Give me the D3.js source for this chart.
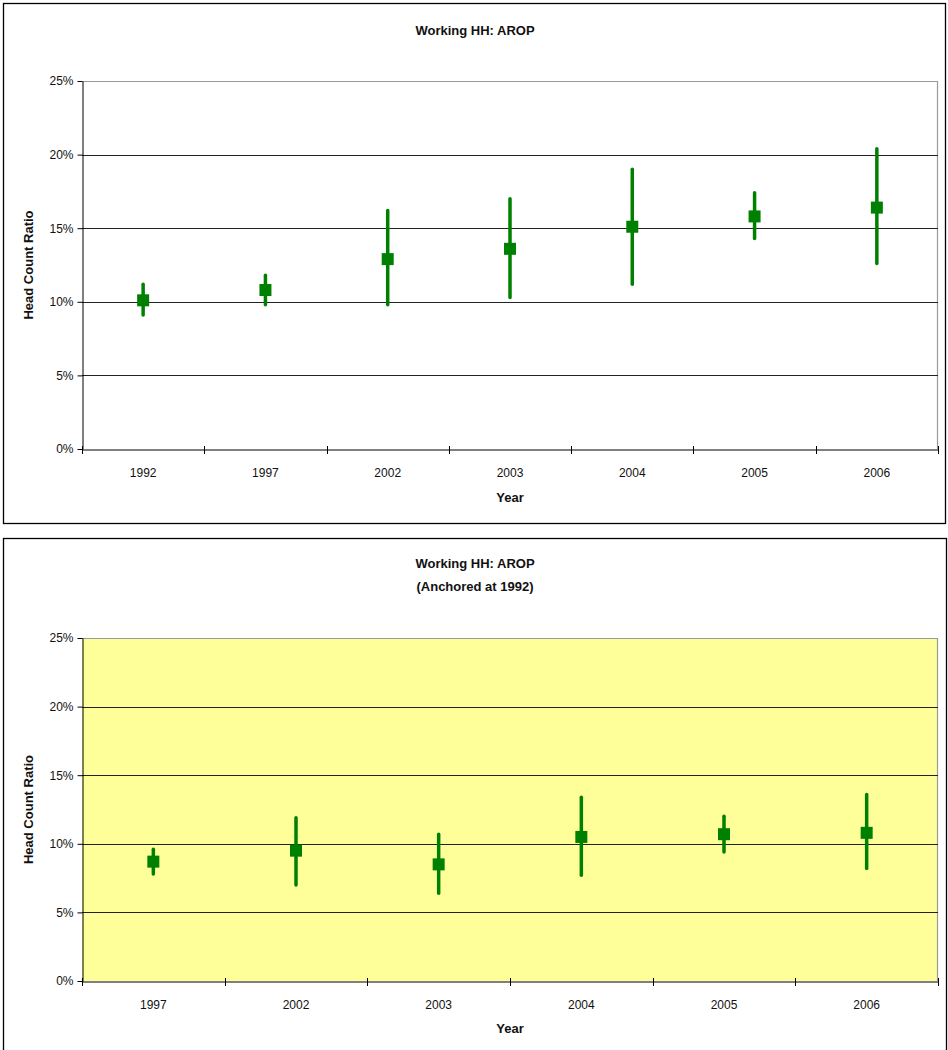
<!DOCTYPE html>
<html>
<head>
<meta charset="utf-8">
<script src="https://cdn.jsdelivr.net/npm/d3@7"></script>
<style>
  body { margin: 0; background: #fff; }
  svg { display: block; }
  text { font-family: "Liberation Sans", Arial, sans-serif; }
</style>
</head>
<body>
<svg id="chart" width="948" height="1050"></svg>
<script>
// ---- Data ----
const yearsTop = ["1992", "1997", "2002", "2003", "2004", "2005", "2006"];
const estTop   = [10.1, 10.8, 12.9, 13.6, 15.1, 15.8, 16.4];
const lowTop   = [9.1, 9.8, 9.8, 10.3, 11.2, 14.3, 12.6];
const highTop  = [11.2, 11.8, 16.2, 17.0, 19.0, 17.4, 20.4];

const yearsBottom = ["1997", "2002", "2003", "2004", "2005", "2006"];
const estBottom   = [8.7, 9.5, 8.5, 10.5, 10.7, 10.8];
const lowBottom   = [7.8, 7.0, 6.4, 7.7, 9.4, 8.2];
const highBottom  = [9.6, 11.9, 10.7, 13.4, 12.0, 13.6];

const yTicks = [0, 5, 10, 15, 20, 25];

const svg = d3.select("#chart");

function drawPanel(cfg) {
  const g = svg.append("g");
  // outer border
  g.append("rect")
    .attr("x", cfg.box[0] + 0.5).attr("y", cfg.box[1] + 0.5)
    .attr("width", cfg.box[2]).attr("height", cfg.box[3])
    .attr("fill", "#fff").attr("stroke", "#000").attr("stroke-width", 1.3);

  const x0 = cfg.plot[0], y0 = cfg.plot[1], x1 = cfg.plot[2], y1 = cfg.plot[3];
  const x = d3.scaleBand().domain(cfg.years).range([x0, x1]).padding(0);
  const y = d3.scaleLinear().domain([0, 25]).range([y1, y0]);

  // plot area
  g.append("rect")
    .attr("x", x0).attr("y", y0).attr("width", x1 - x0).attr("height", y1 - y0)
    .attr("fill", cfg.fill).attr("stroke", "none");
  // right & top border (gray)
  g.append("path")
    .attr("d", `M${x0},${y0 + 0.5}H${x1 - 0.5}V${y1}`)
    .attr("fill", "none").attr("stroke", "#9a9a9a").attr("stroke-width", 1.2);

  // gridlines
  g.selectAll("line.grid").data(yTicks.filter(t => t > 0 && t < 25)).enter()
    .append("line")
    .attr("x1", x0).attr("x2", x1)
    .attr("y1", d => Math.round(y(d)) + 0.5).attr("y2", d => Math.round(y(d)) + 0.5)
    .attr("stroke", "#222").attr("stroke-width", 1);

  // y axis
  const yAxis = d3.axisLeft(y).tickValues(yTicks).tickFormat(d => d + "%").tickSize(5).tickSizeOuter(0);
  const ya = g.append("g").attr("transform", `translate(${x0 + 0.5},0)`).call(yAxis);
  ya.select(".domain").attr("stroke", "#000");
  ya.selectAll(".tick line").attr("stroke", "#000");
  ya.selectAll("text").attr("font-size", 12).attr("fill", "#111").attr("x", -9)
    .attr("font-family", "'Liberation Sans', Arial, sans-serif");

  // x axis: labels at band centers
  const xAxis = d3.axisBottom(x).tickSize(0).tickSizeOuter(0);
  const xa = g.append("g").attr("transform", `translate(0,${y1 + 0.5})`).call(xAxis);
  xa.select(".domain").attr("stroke", "#000");
  xa.selectAll("text").attr("font-size", 12).attr("fill", "#111").attr("dy", "0").attr("y", 27)
    .attr("font-family", "'Liberation Sans', Arial, sans-serif");
  // boundary tick marks
  const bounds = cfg.years.map(d => x(d)).concat([x1]);
  g.selectAll("line.xt").data(bounds).enter().append("line")
    .attr("x1", d => Math.round(d) + 0.5).attr("x2", d => Math.round(d) + 0.5)
    .attr("y1", y1 - 3).attr("y2", y1 + 5)
    .attr("stroke", "#000").attr("stroke-width", 1);

  // error bars
  const cx = d => x(d) + x.bandwidth() / 2;
  g.selectAll("line.err").data(cfg.years).enter().append("line")
    .attr("x1", cx).attr("x2", cx)
    .attr("y1", (d, i) => y(cfg.low[i])).attr("y2", (d, i) => y(cfg.high[i]))
    .attr("stroke", "#008000").attr("stroke-width", 3.5).attr("stroke-linecap", "round");
  // markers
  g.selectAll("rect.mk").data(cfg.years).enter().append("rect")
    .attr("x", d => cx(d) - 6).attr("y", (d, i) => y(cfg.est[i]) - 6)
    .attr("width", 12).attr("height", 12).attr("fill", "#008000");

  // titles
  cfg.title.forEach((t, i) => {
    g.append("text").attr("x", (x0 + x1) / 2 - 35).attr("y", cfg.titleY + i * 23)
      .attr("text-anchor", "middle").attr("font-size", 13).attr("font-weight", "bold")
      .attr("fill", "#111").text(t);
  });
  g.append("text").attr("x", (x0 + x1) / 2).attr("y", cfg.xLabelY)
    .attr("text-anchor", "middle").attr("font-size", 13).attr("font-weight", "bold")
    .attr("fill", "#111").text("Year");
  g.append("text")
    .attr("transform", `translate(${cfg.yLabelX},${(y0 + y1) / 2}) rotate(-90)`)
    .attr("text-anchor", "middle").attr("font-size", 13).attr("font-weight", "bold")
    .attr("fill", "#111").text("Head Count Ratio");
}

drawPanel({
  box: [3, 3, 942, 520],
  plot: [82, 81, 938, 449],
  fill: "#fff",
  years: yearsTop, est: estTop, low: lowTop, high: highTop,
  title: ["Working HH: AROP"],
  titleY: 35,
  xLabelY: 502,
  yLabelX: 33
});

drawPanel({
  box: [3, 538, 943, 530],
  plot: [82, 638, 938, 981],
  fill: "#ffff99",
  years: yearsBottom, est: estBottom, low: lowBottom, high: highBottom,
  title: ["Working HH: AROP", "(Anchored at 1992)"],
  titleY: 568,
  xLabelY: 1033,
  yLabelX: 33
});
</script>
</body>
</html>
